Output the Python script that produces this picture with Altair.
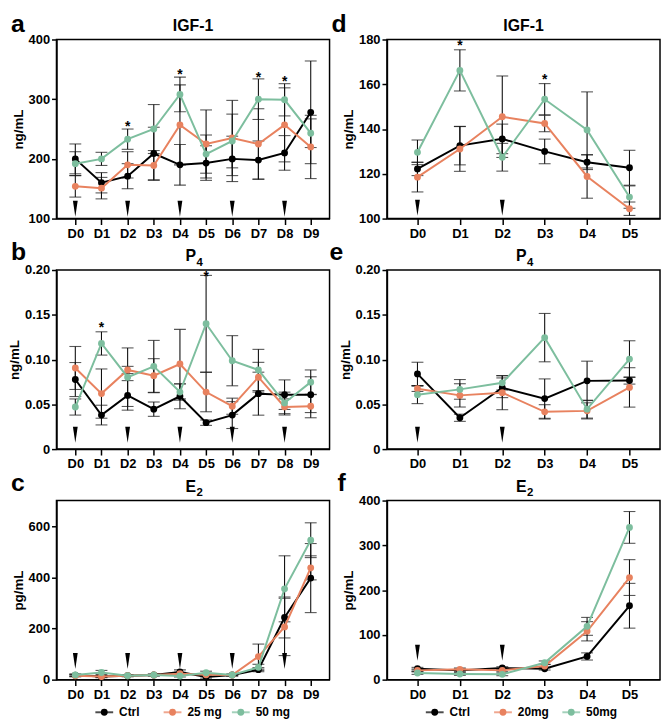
import altair as alt
import pandas as pd

FONT = "Liberation Sans"

days10 = ["D0", "D1", "D2", "D3", "D4", "D5", "D6", "D7", "D8", "D9"]
days6 = ["D0", "D1", "D2", "D3", "D4", "D5"]
series_keys = ["ctrl", "low", "high"]
groups_left = ["Ctrl", "25 mg", "50 mg"]
groups_right = ["Ctrl", "20mg", "50mg"]
colors = ["#000000", "#E8825F", "#7DBE9E"]

# ---- a: IGF-1 (10 days)
a_ctrl = [200, 160, 171, 209, 190, 193, 200, 198, 210, 278]
a_ctrl_err = [25, 17, 21, 44, 34, 29, 38, 32, 29, 86]
a_low = [154, 151, 190, 189, 257, 225, 235, 225, 257, 220]
a_low_err = [18, 18, 22, 25, 67, 57, 63, 59, 62, 53]
a_high = [192, 200, 233, 250, 308, 208, 230, 300, 299, 243]
a_high_err = [20, 11, 17, 41, 29, 32, 45, 34, 27, 24]
a_star_days = ["D2", "D4", "D7", "D8"]
a_star_y = [259, 346, 341, 334]
a_arrow_days = ["D0", "D2", "D4", "D6", "D8"]
a_arrow_y = 116.5

# ---- b: P4 (10 days)
b_ctrl = [0.0777, 0.038, 0.060, 0.0446, 0.059, 0.0295, 0.038, 0.0619, 0.0608, 0.0608]
b_ctrl_err = [0.019, 0.011, 0.0165, 0.008, 0.014, 0.003, 0.015, 0.024, 0.0165, 0.020]
b_low = [0.0906, 0.062, 0.0884, 0.082, 0.095, 0.0637, 0.0479, 0.0803, 0.0471, 0.0479]
b_low_err = [0.024, 0.0275, 0.004, 0.019, 0.0387, 0.022, 0.009, 0.0166, 0.009, 0.0129]
b_high = [0.047, 0.118, 0.0803, 0.0924, 0.0637, 0.140, 0.0987, 0.0884, 0.0516, 0.0748]
b_high_err = [0.009, 0.013, 0.0327, 0.029, 0.009, 0.054, 0.028, 0.023, 0.012, 0.0136]
b_star_days = ["D1", "D5"]
b_star_y = [0.138, 0.196]
b_arrow_days = ["D0", "D2", "D4", "D6", "D8"]
b_arrow_y = 0.016

# ---- c: E2 (10 days)
c_ctrl = [17, 12, 15, 18, 30, 10, 18, 39, 243, 397]
c_ctrl_err = [4, 4, 3, 3, 8, 4, 3, 8, 80, 135]
c_low = [15, 12, 15, 18, 23, 19, 18, 90, 206, 437]
c_low_err = [4, 4, 3, 3, 6, 5, 3, 49, 112, 47]
c_high = [18, 28, 15, 18, 14, 27, 18, 48, 355, 545]
c_high_err = [4, 8, 3, 3, 4, 6, 3, 12, 129, 68]
c_arrow_days = ["D0", "D2", "D4", "D6", "D8"]
c_arrow_y = 73

# ---- d: IGF-1 (6 days)
d_ctrl = [122.2, 132.6, 135.6, 130.0, 125.2, 122.7]
d_ctrl_err = [3.0, 8.6, 6.6, 5.5, 3.3, 7.8]
d_low = [118.5, 131.1, 145.5, 142.5, 118.8, 104.4]
d_low_err = [6.6, 10.0, 18.2, 3.7, 9.7, 3.0]
d_high = [129.6, 166.2, 127.4, 153.3, 139.6, 109.6]
d_high_err = [5.5, 9.2, 6.2, 7.0, 17.0, 5.0]
d_star_days = ["D1", "D3"]
d_star_y = [178.2, 163.0]
d_arrow_days = ["D0", "D2"]
d_arrow_y = 104.8

# ---- e: P4 (6 days)
e_ctrl = [0.084, 0.035, 0.0685, 0.0564, 0.0762, 0.0766]
e_ctrl_err = [0.013, 0.004, 0.011, 0.022, 0.022, 0.004]
e_low = [0.0674, 0.060, 0.063, 0.0416, 0.0427, 0.0689]
e_low_err = [0.003, 0.013, 0.019, 0.008, 0.009, 0.022]
e_high = [0.0608, 0.0667, 0.074, 0.1245, 0.0446, 0.1005]
e_high_err = [0.010, 0.011, 0.008, 0.027, 0.010, 0.0205]
e_arrow_days = ["D0", "D2"]
e_arrow_y = 0.016

# ---- f: E2 (6 days)
f_ctrl = [24.4, 20.7, 25.9, 24.4, 51.8, 165]
f_ctrl_err = [3, 3, 3, 3, 8, 50]
f_low = [20.7, 23.0, 20.7, 30.3, 108, 228]
f_low_err = [3, 3, 3, 4, 21.5, 40]
f_high = [14.8, 12.6, 11.8, 37.7, 119, 340]
f_high_err = [3, 3, 3, 4, 20, 35.5]
f_arrow_days = ["D0", "D2"]
f_arrow_y = 60

W, H = 276, 181
ERR_COLOR = "#111111"
ARROW = "M-0.3,-1L0.3,-1L0,1Z"
P4_LABELS = "datum.value == 0 ? '0' : format(datum.value, '.2f')"
CSCALE = alt.Scale(domain=series_keys, range=colors)


def panel(letter, letter_x, letter_y, title, title_sub, days, groups, means, errs,
          ydomain, yvalues, ytitle, star_days, star_y, arrow_days, arrow_y,
          label_expr=None, legend=False):
    rows = []
    for k, g, m_list, e_list in zip(series_keys, groups, means, errs):
        for d, m, e in zip(days, m_list, e_list):
            rows.append(dict(day=d, k=k, g=g, mean=m, lo=m - e, hi=m + e))
    df = pd.DataFrame(rows)

    xs = alt.Scale(type="point", padding=0.72)
    ys = alt.Scale(domain=ydomain, nice=False, zero=False)
    X = alt.X("day:N", sort=days, scale=xs,
              axis=alt.Axis(title=None, labelAngle=0))
    ykw = dict(title=ytitle, values=yvalues)
    if label_expr:
        ykw["labelExpr"] = label_expr
    yax = alt.Axis(**ykw)

    def Y(field):
        return alt.Y(field, type="quantitative", scale=ys, axis=yax)

    col = alt.Color("k:N", scale=CSCALE, legend=None)
    base = alt.Chart(df)
    layers = [
        base.mark_rule(color=ERR_COLOR, strokeWidth=1.1).encode(x=X, y=Y("lo"), y2="hi"),
        base.mark_tick(color=ERR_COLOR, size=12, thickness=1.1).encode(x=X, y=Y("lo")),
        base.mark_tick(color=ERR_COLOR, size=12, thickness=1.1).encode(x=X, y=Y("hi")),
    ]
    for k in series_keys:
        sub = base.transform_filter(alt.datum.k == k)
        layers.append(sub.mark_line(strokeWidth=2).encode(x=X, y=Y("mean"), color=col))
        layers.append(sub.mark_circle(size=48, opacity=1).encode(x=X, y=Y("mean"), color=col))
    if star_days:
        sdf = pd.DataFrame({"day": star_days, "sy": star_y})
        layers.append(alt.Chart(sdf).mark_text(
            text="*", fontSize=14, fontWeight="bold", font=FONT, baseline="middle",
            dy=3, color="black").encode(x=X, y=Y("sy")))
    adf = pd.DataFrame({"day": arrow_days, "ay": [arrow_y] * len(arrow_days)})
    layers.append(alt.Chart(adf).mark_point(
        shape=ARROW, size=260, filled=True, color="black", opacity=1,
        strokeWidth=0).encode(x=X, y=Y("ay")))
    tdf = pd.DataFrame({"t": [letter], "title": [title], "sub": [title_sub]})
    layers.append(alt.Chart(tdf).mark_text(
        fontSize=25, fontWeight="bold", font=FONT, align="left",
        baseline="alphabetic", color="black").encode(
        text="t:N", x=alt.value(letter_x), y=alt.value(letter_y)))
    if title_sub:
        layers.append(alt.Chart(tdf).mark_text(
            fontSize=16, fontWeight="bold", font=FONT, align="right",
            baseline="alphabetic", color="black").encode(
            text="title:N", x=alt.value(W / 2 + 3), y=alt.value(-9)))
        layers.append(alt.Chart(tdf).mark_text(
            fontSize=11.5, fontWeight="bold", font=FONT, align="left",
            baseline="alphabetic", color="black").encode(
            text="sub:N", x=alt.value(W / 2 + 3.5), y=alt.value(-4.5)))
    else:
        layers.append(alt.Chart(tdf).mark_text(
            fontSize=16, fontWeight="bold", font=FONT, align="center",
            baseline="alphabetic", color="black").encode(
            text="title:N", x=alt.value(W / 2), y=alt.value(-9)))

    main = alt.layer(*layers)
    if legend:
        gdf = pd.DataFrame({"k": series_keys, "g": groups})
        LX = alt.X("k:N", sort=series_keys, axis=None,
                   scale=alt.Scale(type="point", padding=1.4, align=0.35))
        lb = alt.Chart(gdf)
        ly = alt.value(H + 33)
        leg = alt.layer(
            lb.mark_tick(orient="horizontal", size=18, thickness=2).encode(
                x=LX, y=ly, color=col),
            lb.mark_circle(size=48, opacity=1).encode(x=LX, y=ly, color=col),
            lb.mark_text(align="left", baseline="middle", dx=15, fontSize=12,
                         fontWeight="bold", font=FONT, color="black").encode(
                x=LX, y=ly, text="g:N"),
        )
        main = alt.layer(main, leg).resolve_scale(x="independent")
    return main.properties(width=W, height=H)


pa = panel("a", -46, -8, "IGF-1", "", days10, groups_left, [a_ctrl, a_low, a_high],
           [a_ctrl_err, a_low_err, a_high_err], [100, 400], [100, 200, 300, 400],
           "ng/mL", a_star_days, a_star_y, a_arrow_days, a_arrow_y)
pb = panel("b", -46, -10, "P", "4", days10, groups_left, [b_ctrl, b_low, b_high],
           [b_ctrl_err, b_low_err, b_high_err], [0, 0.2], [0, 0.05, 0.1, 0.15, 0.2],
           "ng/mL", b_star_days, b_star_y, b_arrow_days, b_arrow_y, label_expr=P4_LABELS)
pc = panel("c", -46, -10, "E", "2", days10, groups_left, [c_ctrl, c_low, c_high],
           [c_ctrl_err, c_low_err, c_high_err], [0, 700], [0, 200, 400, 600],
           "pg/mL", [], [], c_arrow_days, c_arrow_y, legend=True)
pd_ = panel("d", -56, -8, "IGF-1", "", days6, groups_right, [d_ctrl, d_low, d_high],
            [d_ctrl_err, d_low_err, d_high_err], [100, 180], [100, 120, 140, 160, 180],
            "ng/mL", d_star_days, d_star_y, d_arrow_days, d_arrow_y)
pe = panel("e", -58, -10, "P", "4", days6, groups_right, [e_ctrl, e_low, e_high],
           [e_ctrl_err, e_low_err, e_high_err], [0, 0.2], [0, 0.05, 0.1, 0.15, 0.2],
           "ng/mL", [], [], e_arrow_days, e_arrow_y, label_expr=P4_LABELS)
pf = panel("f", -50, -10, "E", "2", days6, groups_right, [f_ctrl, f_low, f_high],
           [f_ctrl_err, f_low_err, f_high_err], [0, 400], [0, 100, 200, 300, 400],
           "pg/mL", [], [], f_arrow_days, f_arrow_y, legend=True)

chart = alt.concat(
    pa, pd_, pb, pe, pc, pf, columns=2,
    spacing={"row": 52, "column": 58}, bounds="flush",
).properties(
    padding={"top": -1, "left": -2, "right": 0, "bottom": 0}
).configure_view(
    stroke="black", strokeWidth=1.5
).configure_axis(
    grid=False, domainColor="black", domainWidth=1.5, tickColor="black",
    tickWidth=1.5, tickSize=5, labelPadding=2, labelFont=FONT, labelFontSize=13,
    labelFontWeight="bold", labelColor="black", titleFont=FONT, titleFontSize=13.5,
    titleFontWeight="bold", titleColor="black", titlePadding=3,
).configure_axisX(
    tickSize=6, labelPadding=3,
)

chart.save("out.html", embed_options={"renderer": "svg", "actions": False})
